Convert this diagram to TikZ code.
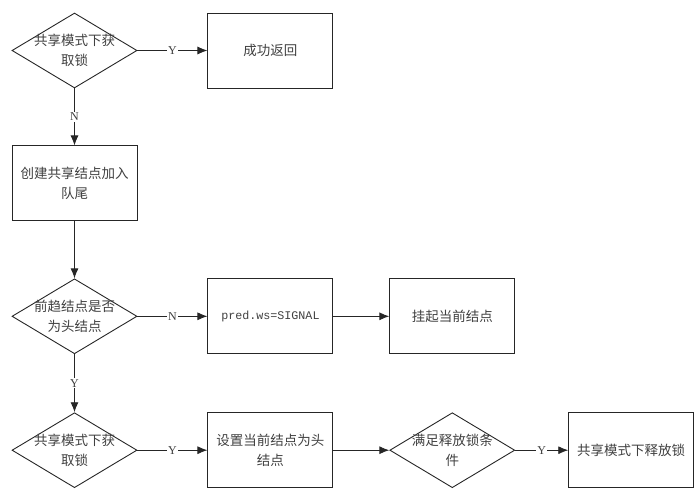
\documentclass[tikz,border=0pt]{standalone}
\usepackage{fontspec}
\usetikzlibrary{arrows.meta,positioning,shapes.geometric}
\newfontfamily\cjk{Noto Sans CJK SC}
\newfontfamily\latin{Liberation Serif}
\newfontfamily\mono{Liberation Mono}

\begin{document}
\begin{tikzpicture}
  [node distance=57pt and 70pt,
   every node/.style={text=black!75, font=\cjk\fontsize{13.5pt}{20pt}\selectfont},
   block/.style={shape=rectangle, draw=black!85, line width=0.9pt, minimum width=125pt, minimum height=75pt, align=center, inner sep=0pt},
   decision/.style={shape=diamond, draw=black!85, line width=0.9pt, minimum width=125pt, minimum height=75pt, inner sep=0pt},
   flow/.style={draw=black!85, line width=0.9pt, -{Latex[length=10pt,width=8pt]}},
   yn/.style={fill=white, inner sep=1pt, font=\latin\fontsize{12pt}{14pt}\selectfont}]
  \useasboundingbox (0,0) rectangle (700pt,-494pt);

  % first column
  \node[decision, label={[align=center]center:共享模式下获\\取锁}] (acq) at (74.5pt,-50.5pt) {};
  \node[block, right=of acq] (ok) {成功返回};
  \node[block, below=of acq] (enq) {创建共享结点加入\\队尾};
  \node[decision, below=of enq, label={[align=center]center:前趋结点是否\\为头结点}] (pred) {};
  \node[block, right=of pred, font=\mono\fontsize{11.7pt}{14pt}\selectfont] (sig) {pred.ws=SIGNAL};
  \node[block, right=56pt of sig] (park) {挂起当前结点};

  % last row
  \node[decision, below=58pt of pred, label={[align=center]center:共享模式下获\\取锁}] (acq2) {};
  \node[block, right=of acq2] (head) {设置当前结点为头\\结点};
  \node[decision, right=56pt of head, label={[align=center]center:满足释放锁条\\件}] (cond) {};
  \node[block, right=53pt of cond] (rel) {共享模式下释放锁};

  \draw[flow] (acq) -- node[yn] {Y} (ok);
  \draw[flow] (acq) -- node[yn] {N} (enq);
  \draw[flow] (enq) -- (pred);
  \draw[flow] (pred) -- node[yn] {N} (sig);
  \draw[flow] (sig) -- (park);
  \draw[flow] (pred) -- node[yn] {Y} (acq2);
  \draw[flow] (acq2) -- node[yn] {Y} (head);
  \draw[flow] (head) -- (cond);
  \draw[flow] (cond) -- node[yn] {Y} (rel);
\end{tikzpicture}
\end{document}
